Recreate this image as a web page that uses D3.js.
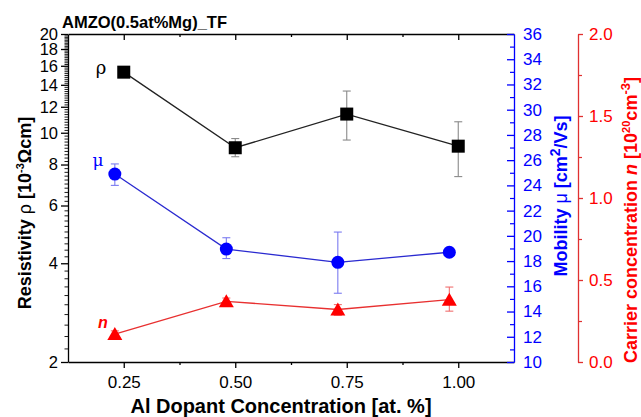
<!DOCTYPE html>
<html><head><meta charset="utf-8">
<script src="https://cdn.jsdelivr.net/npm/d3@7"></script>
<style>
body{margin:0;background:#fff;}
text{font-family:"Liberation Sans",Arial,sans-serif;}
</style></head>
<body><svg id="c" width="641" height="417"></svg>
<script>
// ---- data ----
const xRho = [0.25, 0.50, 0.75, 1.00];
const rho = [15.3, 9.0, 11.4, 9.1];
const rhoLo = [15.1, 8.45, 9.5, 7.35];
const rhoHi = [15.5, 9.6, 13.4, 10.8];
const xMuN = [0.23, 0.48, 0.73, 0.98];
const mu = [24.9, 18.95, 17.9, 18.7];
const muLo = [24.0, 18.2, 15.45, 18.6];
const muHi = [25.7, 19.85, 20.3, 18.8];
const nVals = [0.17, 0.37, 0.32, 0.38];
const nLo = [0.15, 0.35, 0.285, 0.31];
const nHi = [0.19, 0.39, 0.35, 0.457];
const xTicks = [0.25, 0.50, 0.75, 1.00];
const xMinor = [0.375, 0.625, 0.875];
const rhoTicks = [2,4,6,8,10,12,14,16,18,20];
const muTicks = [10,12,14,16,18,20,22,24,26,28,30,32,34,36];
const nTicks = [0.0,0.5,1.0,1.5,2.0];

const svg = d3.select("#c");
const L=68, R=514, T=34, B=362;
const x = d3.scaleLinear().domain([0.125,1.125]).range([L,R]);
const yL = d3.scaleLog().domain([2,20]).range([B,T]);
const yB = d3.scaleLinear().domain([10,36]).range([B,T]);
const yN = d3.scaleLinear().domain([0,2]).range([B,T]);
const blue="#0000ff", red="#ff0000";

function style(g,color,fs){
  g.selectAll("path,line").attr("stroke",color).attr("stroke-width",1.3);
  g.selectAll("text").attr("fill",color).style("font-size",fs+"px").style("font-family","'Liberation Sans',Arial,sans-serif");
}

// x axis bottom
let g=svg.append("g").attr("transform",`translate(0,${B})`)
  .call(d3.axisBottom(x).tickValues(xTicks).tickFormat(d3.format(".2f")).tickSizeInner(6).tickSizeOuter(0).tickPadding(8));
style(g,"#000",17);
g=svg.append("g").attr("transform",`translate(0,${B})`)
  .call(d3.axisBottom(x).tickValues(xMinor).tickFormat("").tickSize(3));
style(g,"#000",17); g.select(".domain").remove();
// top
g=svg.append("g").attr("transform",`translate(0,${T})`)
  .call(d3.axisTop(x).tickValues(xTicks).tickFormat("").tickSizeInner(-6).tickSizeOuter(0));
style(g,"#000",17);
g=svg.append("g").attr("transform",`translate(0,${T})`)
  .call(d3.axisTop(x).tickValues(xMinor).tickFormat("").tickSize(-3));
style(g,"#000",17); g.select(".domain").remove();

// left log axis
g=svg.append("g").attr("transform",`translate(${L},0)`)
  .call(d3.axisLeft(yL).tickValues(rhoTicks).tickFormat(d3.format("d")).tickSizeInner(7).tickSizeOuter(0).tickPadding(3));
style(g,"#000",16.5);
const rhoMinor=[]; for(let v=2.2; v<20; v+=0.2){ const r=Math.round(v*10)/10; if(r%2!==0) rhoMinor.push(r);}
g=svg.append("g").attr("transform",`translate(${L},0)`)
  .call(d3.axisLeft(yL).tickValues(rhoMinor).tickFormat("").tickSize(3.5));
g.select(".domain").remove(); g.selectAll("line").attr("stroke","#000").attr("stroke-width",0.9);

// blue right axis
g=svg.append("g").attr("transform",`translate(${R},0)`)
  .call(d3.axisRight(yB).tickValues(muTicks).tickFormat(d3.format("d")).tickSizeInner(-7).tickSizeOuter(0).tickPadding(9));
style(g,blue,17);
const muMinor=[]; for(let v=11; v<36; v+=2) muMinor.push(v);
g=svg.append("g").attr("transform",`translate(${R},0)`)
  .call(d3.axisRight(yB).tickValues(muMinor).tickFormat("").tickSize(-4));
g.select(".domain").remove(); g.selectAll("line").attr("stroke",blue).attr("stroke-width",1.2);

// red axis
const RX=578;
g=svg.append("g").attr("transform",`translate(${RX},0)`)
  .call(d3.axisRight(yN).tickValues(nTicks).tickFormat(d3.format(".1f")).tickSizeInner(5).tickSizeOuter(0).tickPadding(6));
style(g,red,17); g.selectAll("path,line").attr("stroke","#e03030");
g=svg.append("g").attr("transform",`translate(${RX},0)`)
  .call(d3.axisRight(yN).tickValues([0.25,0.75,1.25,1.75]).tickFormat("").tickSize(4));
g.select(".domain").remove(); g.selectAll("line").attr("stroke","#e03030").attr("stroke-width",1.2);

// series helper
function series(xs, ys, lo, hi, ysc, lineColor, errColor, markerFn){
  const pts = xs.map((v,i)=>[x(v), ysc(ys[i])]);
  svg.append("path").attr("d", d3.line()(pts)).attr("fill","none").attr("stroke",lineColor).attr("stroke-width",1.3);
  xs.forEach((v,i)=>{
    const cx=x(v), y1=ysc(lo[i]), y2=ysc(hi[i]);
    const eg=svg.append("g").attr("stroke",errColor).attr("stroke-width",1.1);
    eg.append("line").attr("x1",cx).attr("x2",cx).attr("y1",y1).attr("y2",y2);
    eg.append("line").attr("x1",cx-4).attr("x2",cx+4).attr("y1",y1).attr("y2",y1);
    eg.append("line").attr("x1",cx-4).attr("x2",cx+4).attr("y1",y2).attr("y2",y2);
  });
  xs.forEach((v,i)=>markerFn(x(v), ysc(ys[i])));
}
series(xRho, rho, rhoLo, rhoHi, yL, "#222", "#8a8a8a", (cx,cy)=>{
  svg.append("rect").attr("x",cx-6.5).attr("y",cy-6.5).attr("width",13).attr("height",13).attr("fill","#000");
});
series(xMuN, mu, muLo, muHi, yB, "#2a2ad0", "#7b7bf0", (cx,cy)=>{
  svg.append("circle").attr("cx",cx).attr("cy",cy).attr("r",6.5).attr("fill",blue);
});
series(xMuN, nVals, nLo, nHi, yN, "#e83030", "#f07070", (cx,cy)=>{
  svg.append("path").attr("d",`M${cx},${cy-7}L${cx+7.5},${cy+6}L${cx-7.5},${cy+6}Z`).attr("fill",red);
});

// inline labels
svg.append("text").attr("x",101).attr("y",74).attr("text-anchor","middle").style("font-size","18px").style("font-family","'DejaVu Serif',serif").attr("fill","#000").text("ρ");
svg.append("text").attr("x",98).attr("y",166).attr("text-anchor","middle").style("font-size","17px").style("font-family","'DejaVu Serif',serif").attr("fill",blue).text("μ");
svg.append("text").attr("x",103).attr("y",328).attr("text-anchor","middle").style("font-size","16px").style("font-weight","bold").style("font-style","italic").attr("fill",red).text("n");

// title
svg.append("text").attr("x",62).attr("y",28).style("font-size","16.5px").style("font-weight","bold").attr("fill","#000").text("AMZO(0.5at%Mg)_TF");

// x title
svg.append("text").attr("x",281).attr("y",413).attr("text-anchor","middle").style("font-size","20px").style("font-weight","bold").attr("fill","#000").text("Al Dopant Concentration [at. %]");

// left title
let t=svg.append("text").attr("transform","translate(31,213) rotate(-90)").attr("text-anchor","middle").style("font-size","18px").style("font-weight","bold").attr("fill","#000");
t.append("tspan").text("Resistivity ");
t.append("tspan").style("font-weight","normal").text("ρ");
t.append("tspan").text(" [10");
t.append("tspan").attr("dy",-7).style("font-size","11px").text("-3");
t.append("tspan").attr("dy",7).text("Ωcm]");

// blue title
t=svg.append("text").attr("transform","translate(567,196) rotate(-90)").attr("text-anchor","middle").style("font-size","18px").style("font-weight","bold").attr("fill",blue);
t.append("tspan").text("Mobility ");
t.append("tspan").style("font-weight","normal").text("μ");
t.append("tspan").text(" [cm");
t.append("tspan").attr("dy",-7).style("font-size","14px").text("2");
t.append("tspan").attr("dy",7).text("/Vs]");

// red title
t=svg.append("text").attr("transform","translate(637,220) rotate(-90)").attr("text-anchor","middle").style("font-size","18px").style("font-weight","bold").attr("fill",red);
t.append("tspan").text("Carrier concentration ");
t.append("tspan").style("font-style","italic").text("n");
t.append("tspan").text(" [10");
t.append("tspan").attr("dy",-7).style("font-size","11px").text("20");
t.append("tspan").attr("dy",7).text("cm");
t.append("tspan").attr("dy",-7).style("font-size","13px").text("-3");
t.append("tspan").attr("dy",7).text("]");
</script></body></html>
